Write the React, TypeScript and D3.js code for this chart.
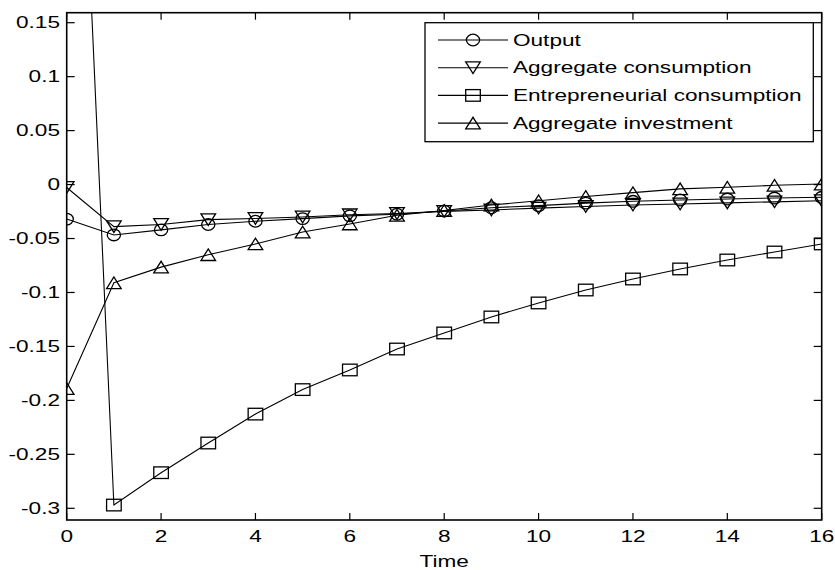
import React from "react";
import * as d3 from "d3";

const time = [0, 1, 2, 3, 4, 5, 6, 7, 8, 9, 10, 11, 12, 13, 14, 15, 16];
const output = [-0.032, -0.0467, -0.042, -0.037, -0.034, -0.0316, -0.029, -0.0275, -0.0245, -0.0215, -0.0195, -0.0172, -0.0155, -0.0143, -0.0134, -0.0125, -0.0118];
const aggConsumption = [-0.0027, -0.039, -0.037, -0.0325, -0.0314, -0.03, -0.028, -0.0268, -0.0248, -0.0235, -0.0218, -0.0203, -0.019, -0.018, -0.017, -0.016, -0.015];
const entConsumption = [0.675, -0.297, -0.267, -0.2395, -0.2127, -0.19, -0.1718, -0.1524, -0.1375, -0.1227, -0.1097, -0.0977, -0.0875, -0.0782, -0.0699, -0.0625, -0.055];
const aggInvestment = [-0.189, -0.091, -0.0765, -0.065, -0.055, -0.044, -0.0365, -0.0285, -0.024, -0.019, -0.015, -0.011, -0.0075, -0.004, -0.0025, -0.0007, 0.0005];

const xTicks = [0, 2, 4, 6, 8, 10, 12, 14, 16];
const yTicks = [0.15, 0.1, 0.05, 0, -0.05, -0.1, -0.15, -0.2, -0.25, -0.3];
const yTickLabels = ["0.15", "0.1", "0.05", "0", "-0.05", "-0.1", "-0.15", "-0.2", "-0.25", "-0.3"];
const seriesNames = ["Output", "Aggregate consumption", "Entrepreneurial consumption", "Aggregate investment"];
const seriesMarkers = ["circle", "down", "square", "up"];
const seriesData = [output, aggConsumption, entConsumption, aggInvestment];

const L = 66.7, R = 821.7, T = 12.7, B = 520;
const SX = 1.37;
const FONT = "'Liberation Sans', Arial, Helvetica, sans-serif";
const FS = 16.5;

function Marker({ kind, x, y }: { kind: string; x: number; y: number }) {
  const w = 7.3, h = 5.8;
  const common = { fill: "none", stroke: "#000", strokeWidth: 1.3 };
  if (kind === "circle") return <ellipse cx={x} cy={y} rx={6.6} ry={5.8} {...common} />;
  if (kind === "square") return <rect x={x - w} y={y - h} width={2 * w} height={2 * h} {...common} />;
  if (kind === "down")
    return <path d={`M${x - w},${y - h}L${x + w},${y - h}L${x},${y + h}Z`} {...common} />;
  return <path d={`M${x - w},${y + h}L${x + w},${y + h}L${x},${y - h}Z`} {...common} />;
}

function Txt({ x, y, anchor, children }: any) {
  return (
    <text
      transform={`translate(${x},${y}) scale(${SX},1)`}
      textAnchor={anchor}
      dy="0.35em"
      fontFamily={FONT}
      fontSize={FS}
      fill="#000"
    >
      {children}
    </text>
  );
}

export default function App() {
  const x = d3.scaleLinear().domain([0, 16]).range([L, R]);
  const y = d3.scaleLinear().domain([0.15, -0.3]).range([22.7, 508.3]);
  const line = d3
    .line<number>()
    .x((_, i) => x(time[i]))
    .y((d) => y(d));

  const legX = 425, legY = 22.7, legW = 813.3 - 425, legH = 141.7 - 22.7;
  const rowY = (i: number) => 40 + i * 27.7;

  return (
    <svg width={835} height={570} style={{ position: "absolute", left: 0, top: 0, background: "#fff" }}>
      <rect x={0} y={0} width={835} height={570} fill="#fff" />
      <defs>
        <clipPath id="plot">
          <rect x={L} y={T} width={R - L} height={B - T} />
        </clipPath>
      </defs>
      <g clipPath="url(#plot)">
        {seriesData.map((s, si) => (
          <g key={si}>
            <path d={line(s) || ""} fill="none" stroke="#000" strokeWidth={1.1} />
            {s.map((v, i) => (
              <Marker key={i} kind={seriesMarkers[si]} x={x(time[i])} y={y(v)} />
            ))}
          </g>
        ))}
      </g>
      <rect x={L} y={T} width={R - L} height={B - T} fill="none" stroke="#000" strokeWidth={1.6} />
      {xTicks.map((t) => (
        <g key={t}>
          <line x1={x(t)} x2={x(t)} y1={B} y2={B - 7} stroke="#000" strokeWidth={1.2} />
          <line x1={x(t)} x2={x(t)} y1={T} y2={T + 7} stroke="#000" strokeWidth={1.2} />
          <Txt x={x(t)} y={536.5} anchor="middle">{String(t)}</Txt>
        </g>
      ))}
      {yTicks.map((t, i) => (
        <g key={t}>
          <line x1={L} x2={L + 8} y1={y(t)} y2={y(t)} stroke="#000" strokeWidth={1.2} />
          <line x1={R} x2={R - 8} y1={y(t)} y2={y(t)} stroke="#000" strokeWidth={1.2} />
          <Txt x={60} y={y(t)} anchor="end">{yTickLabels[i]}</Txt>
        </g>
      ))}
      <Txt x={(L + R) / 2} y={561} anchor="middle">Time</Txt>
      <rect x={legX} y={legY} width={legW} height={legH} fill="#fff" stroke="#000" strokeWidth={1.3} />
      {seriesNames.map((n, i) => (
        <g key={n}>
          <line x1={438} x2={508} y1={rowY(i)} y2={rowY(i)} stroke="#000" strokeWidth={1.1} />
          <Marker kind={seriesMarkers[i]} x={473} y={rowY(i)} />
          <Txt x={513} y={rowY(i)} anchor="start">{n}</Txt>
        </g>
      ))}
    </svg>
  );
}
